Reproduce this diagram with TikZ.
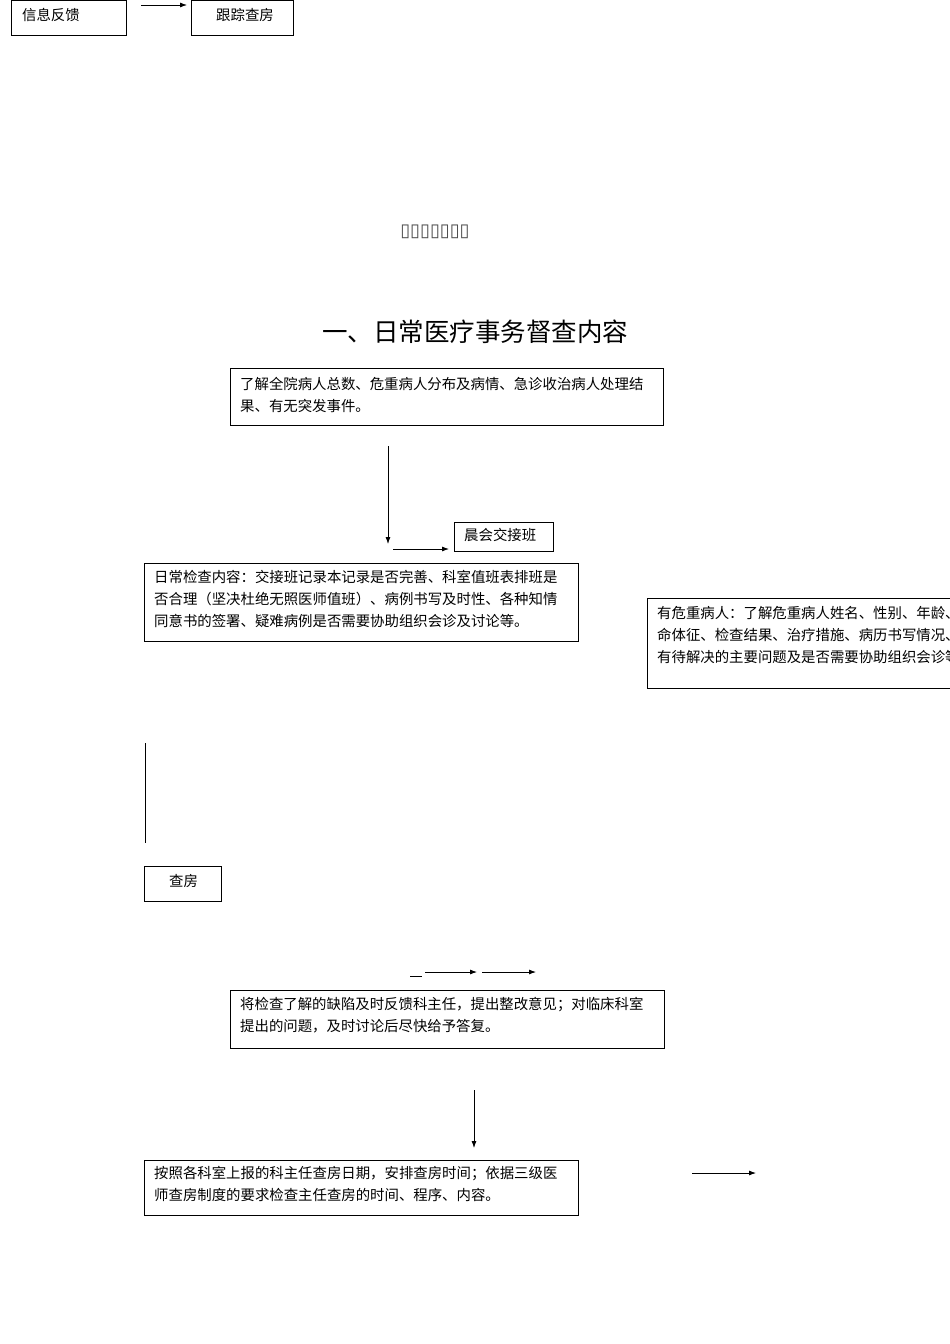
\documentclass[tikz,border=0pt]{standalone}
\usepackage{fontspec}
\usetikzlibrary{arrows.meta}
\setmainfont{Noto Sans CJK SC}
\newfontfamily\dv{DejaVu Sans}
\begin{document}
\begin{tikzpicture}[x=1pt,y=-1pt,
  bx/.style={draw,line width=0.8pt},
  tx/.style={anchor=north west,inner sep=0pt,font=\fontsize{14.4}{22}\selectfont,align=left},
  ar/.style={-{Latex[length=7pt,width=5pt]},line width=0.8pt}]
\useasboundingbox (0,0) rectangle (950,1344);
\clip (0,0) rectangle (950,1344);
\draw[bx] (11,0) rectangle (126,35);
\node[tx] (a) at (22,8) {信息反馈};
\draw[bx] (191,0) rectangle (293,35);
\node[tx] (b) at (216,8) {跟踪查房};
\coordinate (a1) at (141,5); \coordinate (a2) at (187,5);
\draw[ar] (a1) -- (a2);
\node[font=\dv\fontsize{18}{20}\selectfont,text=black!70,inner sep=0pt] (tofu) at (435,232) {▯▯▯▯▯▯▯};
\node[font=\fontsize{25.5}{28}\selectfont] (title) at (475,332) {一、日常医疗事务督查内容};
\draw[bx] (230,368) rectangle (663,425);
\node[tx] (t1) at (240,377) {了解全院病人总数、危重病人分布及病情、急诊收治病人处理结\\果、有无突发事件。};
\coordinate (l1) at (388,446); \coordinate (l2) at (388,544);
\draw[ar] (l1) -- (l2);
\coordinate (m1) at (393,549); \coordinate (m2) at (449,549);
\draw[ar] (m1) -- (m2);
\draw[bx] (454,522) rectangle (553,551);
\node[tx] (t2) at (464,528) {晨会交接班};
\draw[bx] (144,563) rectangle (578,641);
\node[tx] (t3) at (154,570) {日常检查内容：交接班记录本记录是否完善、科室值班表排班是\\否合理（坚决杜绝无照医师值班）、病例书写及时性、各种知情\\同意书的签署、疑难病例是否需要协助组织会诊及讨论等。};
\draw[bx] (647,598) rectangle (960,688);
\node[tx] (t4) at (657,606) {有危重病人：了解危重病人姓名、性别、年龄、生\\命体征、检查结果、治疗措施、病历书写情况、目前\\有待解决的主要问题及是否需要协助组织会诊等。};
\coordinate (v1) at (145,743); \coordinate (v2) at (145,843);
\draw[line width=0.8pt] (v1) -- (v2);
\draw[bx] (144,866) rectangle (221,901);
\node[tx] (t5) at (169,874) {查房};
\coordinate (s1) at (410,976); \coordinate (s2) at (422,976);
\draw[line width=0.8pt] (s1) -- (s2);
\coordinate (p1) at (425,972); \coordinate (p2) at (477,972);
\coordinate (p3) at (482,972); \coordinate (p4) at (536,972);
\draw[ar] (p1) -- (p2); \draw[ar] (p3) -- (p4);
\draw[bx] (230,990) rectangle (664,1048);
\node[tx] (t6) at (240,997) {将检查了解的缺陷及时反馈科主任，提出整改意见；对临床科室\\提出的问题，及时讨论后尽快给予答复。};
\coordinate (q1) at (474,1090); \coordinate (q2) at (474,1148);
\draw[ar] (q1) -- (q2);
\draw[bx] (144,1160) rectangle (578,1215);
\node[tx] (t7) at (154,1166) {按照各科室上报的科主任查房日期，安排查房时间；依据三级医\\师查房制度的要求检查主任查房的时间、程序、内容。};
\coordinate (r1) at (692,1173); \coordinate (r2) at (756,1173);
\draw[ar] (r1) -- (r2);
\end{tikzpicture}
\end{document}
